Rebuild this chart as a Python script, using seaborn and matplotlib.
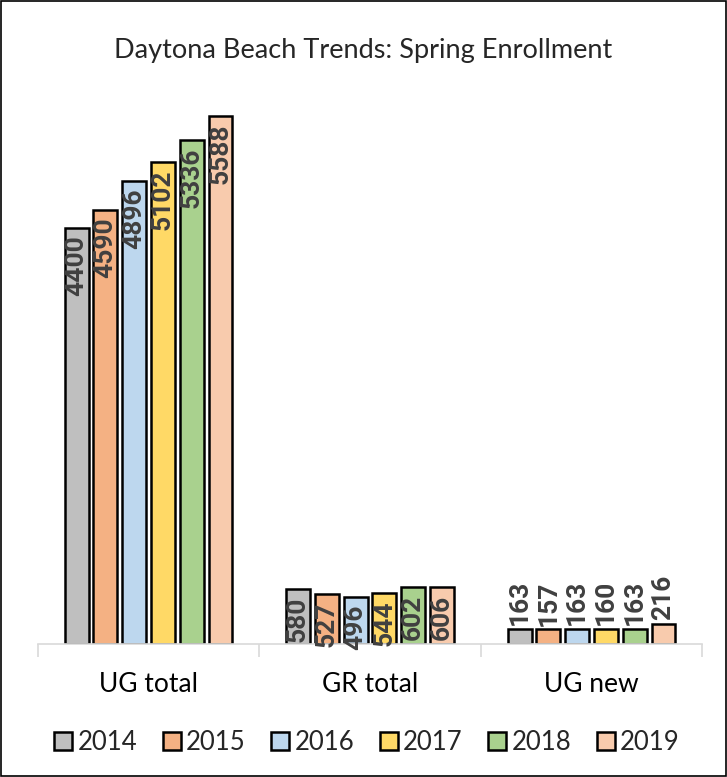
import numpy as np
import pandas as pd
import matplotlib
matplotlib.use("Agg")
import matplotlib.pyplot as plt
import seaborn as sns

categories = ["UG total", "GR total", "UG new"]
years = ["2014", "2015", "2016", "2017", "2018", "2019"]
values = {
    "2014": [4400, 580, 163],
    "2015": [4590, 527, 157],
    "2016": [4896, 496, 163],
    "2017": [5102, 544, 160],
    "2018": [5336, 602, 163],
    "2019": [5588, 606, 216],
}
colors = ["#BFBFBF", "#F4B183", "#BDD7EE", "#FFD966", "#A9D18E", "#F8CBAD"]
title = "Daytona Beach Trends: Spring Enrollment"

rows = []
for y in years:
    for c, v in zip(categories, values[y]):
        rows.append({"category": c, "year": y, "value": v})
df = pd.DataFrame(rows)

sns.set_style("white")
plt.rcParams["font.family"] = ["Lato", "DejaVu Sans"]

fig = plt.figure(figsize=(7.27, 7.77), dpi=100)
ax = fig.add_axes([0.052, 0.171, 0.914, 0.73])

sns.barplot(data=df, x="category", y="value", hue="year", order=categories,
            hue_order=years, palette=colors, width=0.78, gap=0.17,
            edgecolor="black", linewidth=1.8, saturation=1, legend=True, ax=ax)

ax.set_ylim(0, 6000)
ax.set_xlim(-0.5, 2.5)
ax.set_xlabel("")
ax.set_ylabel("")
ax.set_yticks([])
for s in ["top", "left", "right"]:
    ax.spines[s].set_visible(False)
ax.spines["bottom"].set_color("#D9D9D9")
ax.spines["bottom"].set_linewidth(1.2)
ax.tick_params(axis="x", which="major", length=0, labelsize=19, pad=20, colors="black")
ax.set_xticks([-0.5, 0.5, 1.5, 2.5], minor=True)
ax.tick_params(axis="x", which="minor", bottom=True, length=9, width=1.2, color="#D9D9D9")

# data labels
for cont in ax.containers:
    for p in cont.patches:
        h = p.get_height()
        xc = p.get_x() + p.get_width() / 2
        lbl = f"{int(round(h))}"
        if h > 300:
            ax.text(xc, h - 80, lbl, rotation=90, ha="center", va="top",
                    fontsize=19, fontweight="bold", color="#404040", family="Roboto")
        else:
            ax.text(xc, h + 40, lbl, rotation=90, ha="center", va="bottom",
                    fontsize=19, fontweight="bold", color="#404040", family="Roboto")

handles, labels = ax.get_legend_handles_labels()
ax.get_legend().remove()
fig.legend(handles, labels, loc="center", bbox_to_anchor=(0.505, 0.045), ncol=6,
           frameon=False, fontsize=18.5, handlelength=0.7, handleheight=0.7,
           handletextpad=0.2, columnspacing=1.0)

fig.text(0.5, 0.935, title, ha="center", va="center", fontsize=19.5)

fig.patches.append(plt.Rectangle((0.001, 0.001), 0.998, 0.998, transform=fig.transFigure,
                                 fill=False, edgecolor="black", linewidth=1.2))

fig.savefig("out.png", dpi=100, facecolor="white")
